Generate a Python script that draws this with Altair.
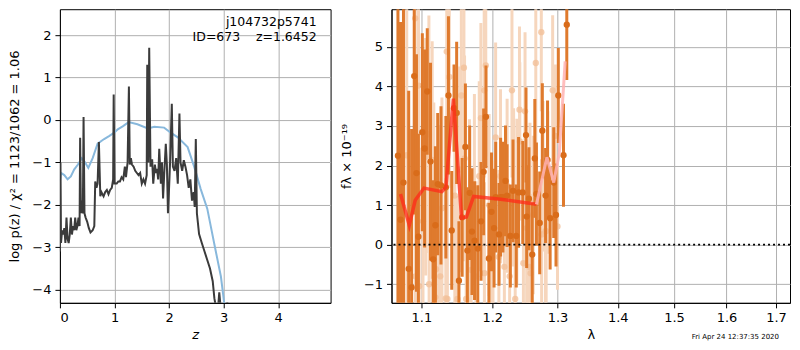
import altair as alt
import pandas as pd

# ---------------- left panel: p(z) ----------------
pz_z = [0.00, 0.01, 0.02, 0.04, 0.06, 0.08, 0.10, 0.12, 0.14, 0.16, 0.18, 0.20, 0.22, 0.24,
        0.26, 0.28, 0.30, 0.32, 0.34, 0.36, 0.37, 0.385, 0.40, 0.42, 0.433, 0.45, 0.47, 0.50,
        0.53, 0.56, 0.60, 0.63, 0.647, 0.67, 0.69, 0.714, 0.74, 0.76, 0.78, 0.80, 0.83, 0.86,
        0.89, 0.92, 0.95, 0.975, 0.985, 1.00, 1.04, 1.07, 1.10, 1.13, 1.16, 1.19, 1.21, 1.24,
        1.264, 1.28, 1.30, 1.32, 1.35, 1.38, 1.41, 1.44, 1.47, 1.50, 1.53, 1.56, 1.59, 1.60,
        1.62, 1.636, 1.66, 1.69, 1.71, 1.74, 1.76, 1.78, 1.80, 1.82, 1.85, 1.87, 1.89, 1.91,
        1.94, 1.96, 1.98, 2.00, 2.02, 2.05, 2.07, 2.10, 2.13, 2.16, 2.19, 2.21, 2.24, 2.27,
        2.30, 2.33, 2.36, 2.39, 2.42, 2.45, 2.47, 2.49, 2.51, 2.55, 2.60, 2.65, 2.70, 2.75,
        2.80, 2.83, 2.87, 2.90, 2.92, 2.95, 3.00, 3.05, 3.07]
pz_logp = [-3.1, -1.0, -2.9, -2.6, -2.7, -2.55, -2.9, -2.3, -2.8, -2.9, -2.7, -2.3, -2.7, -2.5,
           -2.6, -2.3, -2.6, -2.5, -2.3, -2.5, -0.42, -2.2, -1.9, -2.2, 0.07, -2.2, -2.3, -2.4,
           -2.55, -2.65, -2.6, -2.5, -1.45, -1.6, -1.5, -0.52, -1.8, -1.7, -1.75, -1.8, -1.7, -1.65,
           -1.75, -1.65, -1.6, -1.4, 0.6, -1.5, -1.5, -1.45, -1.45, -1.35, -1.4, -1.1, -1.35, -1.0,
           0.79, -1.05, -0.9, -1.05, -1.1, -1.2, -1.25, -1.3, -1.25, -1.5, -1.4, -1.5, -1.3, 1.3,
           -1.0, 1.7, -1.1, -0.93, -1.5, -1.05, -1.25, -1.15, -1.4, -0.68, -1.5, -1.0, -1.85, -1.3,
           -0.56, -1.05, -2.2, -1.6, -0.95, 0.38, -1.1, -1.2, -0.9, -1.5, 0.15, -1.0, -1.2, -0.95,
           -1.1, -1.3, -1.6, -1.4, -1.9, -1.7, -2.05, -0.45, -2.2, -2.69, -2.9, -3.1, -3.3, -3.5,
           -3.8, -4.2, -4.5, -4.4, -4.06, -4.5, -4.6, -4.45, -4.3]

chi_z = [0.00, 0.02, 0.08, 0.14, 0.20, 0.26, 0.33, 0.40, 0.46, 0.52, 0.60, 0.69, 0.81, 0.90,
         0.995, 1.06, 1.15, 1.26, 1.42, 1.61, 1.73, 1.91, 2.03, 2.16, 2.34, 2.46, 2.58, 2.70,
         2.83, 2.95, 3.01, 3.05]
chi_logp = [-1.45, -1.25, -1.3, -1.4, -1.33, -1.17, -1.05, -0.9, -1.0, -1.13, -0.9, -0.56, -0.45,
            -0.38, -0.3, -0.22, -0.15, -0.05, -0.1, -0.2, -0.16, -0.18, -0.3, -0.41, -0.64, -1.1,
            -1.63, -2.09, -2.93, -3.69, -4.31, -4.6]

# ---------------- right panel: spectrum ----------------
dark_lam = [1.0688, 1.0722, 1.0761, 1.0830, 1.0869, 1.0904, 1.0934, 1.0960, 1.1013, 1.1044,
            1.1080, 1.1124, 1.1160, 1.1191, 1.1223, 1.1268, 1.1336, 1.1372, 1.1418, 1.1450,
            1.1487, 1.1519, 1.1565, 1.1611, 1.1639, 1.1672, 1.1705, 1.1742, 1.1789, 1.1836,
            1.1874, 1.1908, 1.1951, 1.1989, 1.2027, 1.2051, 1.2100, 1.2124, 1.2158, 1.2197,
            1.2221, 1.2270, 1.2310, 1.2359, 1.2394, 1.2458, 1.2508, 1.2518, 1.2553, 1.2604,
            1.2644, 1.2669, 1.2720, 1.2761, 1.2812, 1.2843, 1.2884, 1.2941, 1.2977, 1.3014,
            1.3097, 1.3150]
dark_flux = [2.25, 0.63, 1.57, -0.61, -1.08, 4.26, 1.81, 0.20, 2.84, 2.43,
             3.87, 2.10, -0.37, 0.49, 1.53, 1.50, 1.45, 3.77, 0.36, 3.45,
             3.33, -0.91, 0.69, 2.47, -0.15, 1.31, 0.33, 0.10, -0.10, 0.59,
             1.84, 3.23, -0.35, 0.83, 0.42, 1.20, 0.26, 1.20, 1.20, 1.61,
             1.24, 0.22, 1.36, 0.22, 1.32, 1.32, 2.77, 0.71, 1.16, -0.25,
             2.18, 1.28, 0.55, 2.88, 1.24, 2.14, 0.67, 1.57, 0.75, 3.77,
             2.26, 5.56]
dark_err = [6.0, 5.0, 5.0, 4.5, 4.0, 3.5, 3.0, 2.6, 2.5, 2.5,
            1.6, 2.5, 2.0, 2.0, 1.8, 2.0, 1.8, 2.0, 1.5, 1.1,
            1.8, 1.5, 1.5, 1.6, 1.6, 1.7, 1.6, 1.5, 1.6, 1.5,
            1.6, 1.3, 1.4, 1.5, 1.5, 1.4, 1.3, 1.5, 1.4, 1.4,
            1.3, 1.3, 1.3, 1.3, 1.4, 1.3, 1.2, 1.3, 1.3, 1.3,
            1.5, 1.3, 1.3, 1.2, 1.2, 1.5, 1.3, 1.4, 1.3, 1.2,
            1.3, 1.4]

light_lam = [1.0804, 1.0917, 1.0961, 1.1102, 1.1169, 1.1236, 1.1348, 1.1357, 1.1384, 1.1461,
             1.1553, 1.1590, 1.1599, 1.1834, 1.1882, 1.1905, 1.2011, 1.2050, 1.2122, 1.2294,
             1.2319, 1.2408, 1.2413, 1.2493, 1.2518, 1.2569, 1.2659, 1.2745, 1.2771, 1.2811,
             1.2924, 1.2965, 1.3001, 1.0920, 1.0970, 1.1022, 1.1105, 1.1191, 1.1200, 1.1258,
             1.1335, 1.1498, 1.1622, 1.1693, 1.1763, 1.1885, 1.1978, 1.2098, 1.2180, 1.2259,
             1.2343, 1.2468, 1.2559, 1.2579, 1.2750, 1.2821, 1.1058, 1.1147, 1.1281, 1.1530,
             1.1669, 1.1740, 1.1810, 1.1954, 1.2221, 1.2368, 1.2619, 1.2847]
light_flux = [2.26, 5.72, 4.02, 2.79, 0.59, 0.02, 4.88, -1.37, 4.24, 1.24,
              3.77, 4.47, 2.18, 3.20, 3.90, 4.53, -0.07, 2.71, 1.73, 3.90,
              1.45, 3.41, 2.61, 3.37, 0.42, 1.08, 4.59, 5.37, 1.73, 0.34,
              3.90, 2.75, 0.46, -0.80, -1.05, 0.59, -1.00, -1.33, -0.62, -0.80,
              -1.36, -1.37, -1.37, -0.64, -0.80, -0.72, -0.39, -0.31, -0.56, -0.80,
              -1.37, -0.47, -0.56, -0.72, 0.26, 0.34, 2.22, 2.14, 0.92, 1.90,
              0.67, 1.41, 1.73, 1.00, 1.49, 1.08, 0.75, 1.57]
light_err = [4.0, 3.5, 3.5, 3.0, 3.0, 3.0, 2.8, 3.0, 2.8, 2.8,
             2.6, 2.5, 2.6, 2.4, 2.2, 2.3, 2.2, 2.4, 2.2, 2.2,
             2.0, 2.1, 2.0, 2.0, 2.0, 2.0, 2.1, 2.0, 1.9, 1.8,
             1.9, 1.8, 1.6, 3.5, 3.5, 3.0, 3.0, 2.8, 2.8, 2.8,
             2.6, 2.6, 2.5, 2.4, 2.4, 2.3, 2.2, 2.2, 2.2, 2.1,
             2.0, 2.0, 2.0, 2.0, 1.9, 1.8, 3.0, 3.0, 2.8, 2.6,
             2.5, 2.4, 2.4, 2.3, 2.2, 2.1, 2.0, 1.8]

model_lam = [1.0722, 1.0838, 1.0917, 1.1035, 1.1281, 1.1336, 1.1441, 1.1556, 1.1625, 1.1728,
             1.2124, 1.2669]
model_flux = [1.28, 0.49, 1.12, 1.43, 1.34, 1.45, 3.69, 0.67, 0.70, 1.22, 1.15, 1.02]
model2_lam = [1.2669, 1.2833, 1.2941, 1.3029, 1.3124]
model2_flux = [1.02, 2.21, 1.57, 2.30, 4.63]

FONT = "DejaVu Sans"
NB = "\u00a0"
H = 294

# ---------------- left chart ----------------
xz = alt.X("z:Q", scale=alt.Scale(domain=[0, 4.96], nice=False),
           axis=alt.Axis(values=[0, 1, 2, 3, 4], title="z", titleFontStyle="italic",
                         format="d"))
yz = alt.Y("logp:Q", scale=alt.Scale(domain=[-4.31, 2.61], nice=False),
           axis=alt.Axis(values=[-4, -3, -2, -1, 0, 1, 2], format="d",
                         title="log p(z) / χ² = 1123/1062 = 1.06", titlePadding=10))

df_pz = pd.DataFrame({"z": pz_z, "logp": pz_logp})
df_chi = pd.DataFrame({"z": chi_z, "logp": chi_logp})

blue = alt.Chart(df_chi).mark_line(color="#88b8dc", strokeWidth=2, clip=True).encode(x=xz, y=yz)
black = alt.Chart(df_pz).mark_line(color="#3b3b3b", strokeWidth=2, clip=True).encode(x=xz, y=yz)

lab1 = alt.Chart(pd.DataFrame({"t": ["j104732p5741"]})).mark_text(
    align="right", baseline="middle", fontSize=12.5, font=FONT, color="black"
).encode(x=alt.value(257), y=alt.value(13), text="t:N")
lab2 = alt.Chart(pd.DataFrame({"t": ["ID=673" + NB * 4 + "z=1.6452"]})).mark_text(
    align="right", baseline="middle", fontSize=12.5, font=FONT, color="black"
).encode(x=alt.value(257), y=alt.value(28), text="t:N")

left = alt.layer(blue, black, lab1, lab2).properties(width=271, height=H)

# ---------------- right chart ----------------
xl_scale = alt.Scale(type="log", domain=[1.0604, 1.7296], nice=False)
xl_axis = alt.Axis(values=[1.1, 1.2, 1.3, 1.4, 1.5, 1.6, 1.7], format=".1f", title="λ")
yf_scale = alt.Scale(domain=[-1.47, 5.95], nice=False)
yf_axis = alt.Axis(values=[-1, 0, 1, 2, 3, 4, 5], format="d", title="fλ × 10⁻¹⁹",
                   titlePadding=10)

df_dark = pd.DataFrame({"lam": dark_lam, "f": dark_flux, "e": dark_err})
df_light = pd.DataFrame({"lam": light_lam, "f": light_flux, "e": light_err})
df_m1 = pd.DataFrame({"lam": model_lam, "f": model_flux})
df_m2 = pd.DataFrame({"lam": model2_lam, "f": model2_flux})

X = alt.X("lam:Q", scale=xl_scale, axis=xl_axis)
Y = alt.Y("f:Q", scale=yf_scale, axis=yf_axis)

light_bars = alt.Chart(df_light).transform_calculate(
    lo="datum.f - datum.e", hi="datum.f + datum.e"
).mark_rule(color="#f6d6bd", strokeWidth=3, clip=True).encode(
    x=X, y=alt.Y("lo:Q", scale=yf_scale, axis=yf_axis), y2="hi:Q")
light_pts = alt.Chart(df_light).mark_circle(color="#f2c09a", opacity=0.8, size=40, clip=True).encode(x=X, y=Y)

dark_bars = alt.Chart(df_dark).transform_calculate(
    lo="datum.f - datum.e", hi="datum.f + datum.e"
).mark_rule(color="#df7a2d", strokeWidth=3, clip=True).encode(
    x=X, y=alt.Y("lo:Q", scale=yf_scale, axis=yf_axis), y2="hi:Q")
dark_pts = alt.Chart(df_dark).mark_circle(color="#d96c1a", opacity=1, size=40, clip=True).encode(x=X, y=Y)

model1 = alt.Chart(df_m1).mark_line(color="#ff2a1a", opacity=0.75, strokeWidth=3.5, clip=True).encode(x=X, y=Y)
model2 = alt.Chart(df_m2).mark_line(color="#ffb3b3", opacity=0.85, strokeWidth=3, clip=True).encode(x=X, y=Y)

zero = alt.Chart(pd.DataFrame({"f": [0]})).mark_rule(
    color="black", strokeDash=[2, 3], strokeWidth=1.6
).encode(y=alt.Y("f:Q", scale=yf_scale, axis=yf_axis))

footer = alt.Chart(pd.DataFrame({"t": ["Fri Apr 24 12:37:35 2020"]})).mark_text(
    align="right", baseline="middle", fontSize=7, font=FONT, color="black"
).encode(x=alt.value(388), y=alt.value(328), text="t:N")

right = alt.layer(light_bars, light_pts, dark_bars, dark_pts, model1, model2, zero, footer).properties(
    width=399, height=H)

chart = alt.hconcat(left, right, spacing=8).properties(
    padding={"left": 0, "top": 0, "right": 0, "bottom": 0}
).configure_view(
    stroke="black", strokeWidth=1
).configure_axis(
    labelFont=FONT, titleFont=FONT, labelFontSize=13, titleFontSize=13,
    titleFontWeight="normal", labelColor="black", titleColor="black",
    domainColor="black", tickColor="black", tickSize=5, gridColor="#b0b0b0",
    gridWidth=1, labelPadding=4
).configure_text(font=FONT)

chart.save("out.html", embed_options={"renderer": "svg", "actions": False})
